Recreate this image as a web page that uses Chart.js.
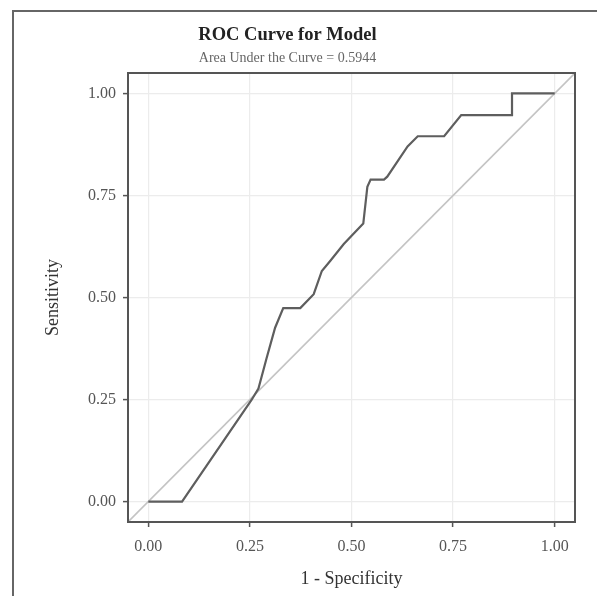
<!DOCTYPE html>
<html lang="en">
  <head>
    <meta charset="UTF-8" />
    <title>ROC Curve for Model</title>
    <style>
      html, body { margin: 0; padding: 0; background: #fff; }
      #frame {
        position: absolute; left: 12px; top: 10px; width: 700px; height: 700px;
        border-left: 2px solid #666; border-top: 2px solid #666;
      }
      #wrap { position: absolute; left: 0; top: 0; width: 597px; height: 596px; }
    </style>
  </head>
  <body>
    <div id="frame"></div>
    <div id="wrap"><canvas id="chart" width="597" height="596"></canvas></div>

    <script src="https://cdn.jsdelivr.net/npm/chart.js@4.4.1/dist/chart.umd.min.js"></script>
    <script>
      // ROC points
      const fpr = [0, 0.083, 0.254, 0.271, 0.291, 0.312, 0.332, 0.374, 0.407, 0.427, 0.448, 0.481,
                   0.529, 0.539, 0.547, 0.580, 0.588, 0.638, 0.663, 0.728, 0.770, 0.895, 0.895, 1.0];
      const tpr = [0, 0, 0.249, 0.277, 0.351, 0.426, 0.474, 0.474, 0.508, 0.565, 0.590, 0.631,
                   0.681, 0.771, 0.789, 0.789, 0.796, 0.870, 0.895, 0.895, 0.947, 0.947, 1.0, 1.0];
      const refLine = [-0.05, 1.05];
      const tickValues = [0, 0.25, 0.5, 0.75, 1];
      const auc = 0.5944;

      const serif = '"Liberation Serif", "DejaVu Serif", serif';

      // box round the panel, like theme_bw
      const panelBorder = {
        id: 'panelBorder',
        afterDraw(chart) {
          const a = chart.chartArea, ctx = chart.ctx;
          ctx.save();
          ctx.strokeStyle = '#555';
          ctx.lineWidth = 2;
          ctx.strokeRect(a.left, a.top, a.right - a.left, a.bottom - a.top);
          ctx.restore();
        }
      };

      const axisTicks = (scale) => {
        scale.ticks = tickValues.map((v) => ({ value: v }));
      };

      new Chart(document.getElementById('chart'), {
        type: 'scatter',
        data: {
          datasets: [
            {
              label: 'ROC',
              data: fpr.map((x, i) => ({ x: x, y: tpr[i] })),
              showLine: true,
              borderColor: '#5e5e5e',
              borderWidth: 2.2,
              pointRadius: 0,
              tension: 0,
              order: 1
            },
            {
              label: 'chance',
              data: refLine.map((v) => ({ x: v, y: v })),
              showLine: true,
              borderColor: '#c4c4c4',
              borderWidth: 1.6,
              pointRadius: 0,
              order: 2
            }
          ]
        },
        options: {
          responsive: false,
          animation: false,
          layout: { padding: { left: 0, right: 22, top: 24, bottom: 6 } },
          plugins: {
            legend: { display: false },
            tooltip: { enabled: false },
            title: {
              display: true,
              text: 'ROC Curve for Model',
              color: '#222',
              font: { family: serif, size: 18.5, weight: 'bold' },
              padding: { top: 0, bottom: 3.5 }
            },
            subtitle: {
              display: true,
              text: 'Area Under the Curve = ' + auc,
              color: '#666',
              font: { family: serif, size: 14 },
              padding: { top: 0, bottom: 6.5 }
            }
          },
          scales: {
            x: {
              type: 'linear',
              min: -0.05,
              max: 1.05,
              afterBuildTicks: axisTicks,
              afterFit(scale) { scale.height = 68; },
              border: { display: false },
              grid: { color: '#ececec', lineWidth: 1.2, tickColor: '#555', tickLength: 5, tickWidth: 1.5 },
              ticks: {
                color: '#555',
                font: { family: serif, size: 16 },
                padding: 10,
                maxRotation: 0,
                callback: (v) => v.toFixed(2)
              },
              title: {
                display: true,
                text: '1 - Specificity',
                color: '#333',
                font: { family: serif, size: 18 },
                padding: { top: 0, bottom: 0 }
              }
            },
            y: {
              type: 'linear',
              min: -0.05,
              max: 1.05,
              afterBuildTicks: axisTicks,
              afterFit(scale) { scale.width = 128; },
              border: { display: false },
              grid: { color: '#ececec', lineWidth: 1.2, tickColor: '#555', tickLength: 5, tickWidth: 1.5 },
              ticks: {
                color: '#555',
                font: { family: serif, size: 16 },
                padding: 7,
                callback: (v) => v.toFixed(2)
              },
              title: {
                display: true,
                text: 'Sensitivity',
                color: '#333',
                font: { family: serif, size: 18 },
                padding: { top: 42, bottom: 0 }
              }
            }
          }
        },
        plugins: [panelBorder]
      });
    </script>
  </body>
</html>
